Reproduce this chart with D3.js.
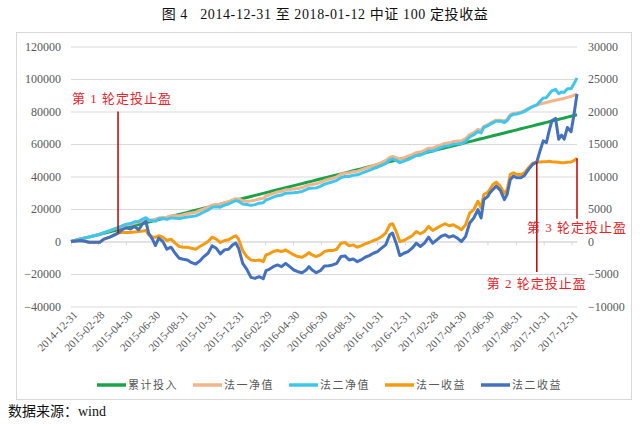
<!DOCTYPE html>
<html>
<head>
<meta charset="utf-8">
<script src="https://cdn.jsdelivr.net/npm/d3@7"></script>
<style>
body { margin: 0; background: #fff; }
text { font-family: "Liberation Serif", "Noto Sans CJK SC", serif; }
</style>
</head>
<body>
<div id="chart"></div>
<script>
// sample dates
var dates = ["2014-12-31","2015-01-22","2015-02-09","2015-03-04","2015-03-13","2015-03-26","2015-04-13","2015-04-22","2015-05-01","2015-05-10",
"2015-05-19","2015-05-28","2015-06-06","2015-06-13","2015-06-19","2015-06-28","2015-07-04","2015-07-11","2015-07-20","2015-07-29",
"2015-08-07","2015-08-16","2015-08-25","2015-09-03","2015-09-12","2015-09-21","2015-09-30","2015-10-09","2015-10-18","2015-10-27",
"2015-11-05","2015-11-14","2015-11-23","2015-12-02","2015-12-11","2015-12-20","2015-12-27","2016-01-02","2016-01-11","2016-01-20",
"2016-01-29","2016-02-07","2016-02-16","2016-02-25","2016-03-02","2016-03-09","2016-03-18","2016-03-27","2016-04-05","2016-04-14",
"2016-04-23","2016-05-02","2016-05-11","2016-05-20","2016-05-29","2016-06-04","2016-06-11","2016-06-20","2016-06-29","2016-07-08",
"2016-07-17","2016-07-26","2016-08-04","2016-08-13","2016-08-22","2016-08-31","2016-09-09","2016-09-18","2016-09-26","2016-10-05",
"2016-10-14","2016-10-23","2016-11-01","2016-11-10","2016-11-19","2016-11-28","2016-12-04","2016-12-12","2016-12-20","2016-12-29",
"2017-01-07","2017-01-16","2017-01-25","2017-02-03","2017-02-12","2017-02-21","2017-03-02","2017-03-11","2017-03-20","2017-03-29",
"2017-04-07","2017-04-16","2017-04-25","2017-05-04","2017-05-13","2017-05-22","2017-05-31","2017-06-09","2017-06-16","2017-06-22",
"2017-07-01","2017-07-05","2017-07-12","2017-07-19","2017-07-28","2017-08-06","2017-08-12","2017-08-19","2017-08-26","2017-09-02",
"2017-09-11","2017-09-19","2017-09-28","2017-10-07","2017-10-16","2017-10-23","2017-10-30","2017-11-06","2017-11-12","2017-11-18",
"2017-11-26","2017-12-03","2017-12-09","2017-12-15","2017-12-22","2017-12-30","2018-01-05","2018-01-12"];

// 累计投入 (left axis)
var invest = [100,1550,2820,4440,5070,5980,7250,7880,8520,9150,
9790,10420,11050,11550,11970,12600,13020,13520,14150,14780,
15420,16050,16680,17320,17950,18590,19220,19850,20490,21120,
21750,22390,23020,23650,24290,24920,25410,25840,26470,27100,
27740,28370,29000,29640,30060,30550,31190,31820,32450,33090,
33720,34360,34990,35620,36260,36680,37170,37800,38440,39070,
39710,40340,40970,41610,42240,42870,43510,44140,44700,45340,
45970,46600,47240,47870,48510,49140,49560,50120,50690,51320,
51960,52590,53220,53860,54490,55120,55760,56390,57020,57660,
58290,58920,59560,60190,60830,61460,62090,62730,63220,63640,
64280,64560,65050,65540,66180,66810,67230,67720,68220,68710,
69340,69910,70540,71170,71810,72300,72790,73290,73710,74130,
74690,75190,75610,76030,76520,77090,77510,78000];

// 法一净值 (left axis)
var net1 = [100,1700,2720,4340,5430,6650,8540,9270,9910,10540,
11230,11970,12650,13250,13000,13270,13690,14400,14820,14940,
15780,15790,15910,16440,17070,17560,18030,19080,20080,21120,
22420,22750,22870,23810,24550,25590,26290,26200,25080,24780,
24900,25430,26160,26540,28000,28640,29640,30430,30900,31800,
32020,32300,32670,33200,34200,34980,35110,35480,36380,37520,
38320,38950,39780,41350,42090,42200,42990,43260,44030,44980,
45820,46760,47600,48640,49800,51720,52300,51670,50690,51480,
52480,53470,54770,55050,56040,57440,57460,58450,59450,60390,
60720,61500,61780,62000,63410,65850,66990,68920,68380,70860,
71870,72560,73820,74670,74690,74190,75230,78040,78800,79030,
79660,80490,81890,83190,84040,84530,85070,85570,86040,86410,
86920,87370,87740,88160,88700,89320,89950,90800];

// 法二净值 (left axis)
var net2 = [100,1700,2720,4340,5430,6650,8540,9690,10640,11060,
12110,12230,13790,14640,13260,12860,12400,14030,14150,13600,
14540,14240,14100,14580,15110,15340,15760,16860,18170,19310,
21080,21360,21110,22360,23100,24410,25160,24800,23120,22820,
22220,22690,23580,23910,25570,26270,27320,28210,28580,29740,
29850,29970,30350,30820,31870,32810,32780,33000,33950,35300,
35990,36730,37620,39290,40020,40030,40830,41040,41860,42910,
43800,44800,45690,46840,47990,50170,50850,49860,48520,49510,
50410,51560,52960,53090,54230,55790,55500,56650,57790,58690,
58960,59800,60080,60190,61600,64300,65700,67630,66830,70090,
71250,72040,73050,74050,74070,73260,74450,77270,78280,78510,
79140,80080,81630,83040,84040,86230,88270,88510,90740,92710,
93630,90930,91970,91770,94060,93960,96860,100700];

// 法一收益 (right axis)
var profit1 = [0,155,-103,-103,361,671,1290,1393,1393,1393,
1445,1548,1600,1703,1032,671,671,877,671,155,
361,-258,-774,-877,-877,-1032,-1187,-774,-413,0,
671,361,-155,155,258,671,877,361,-1393,-2322,
-2838,-2941,-2838,-3096,-2064,-1909,-1548,-1393,-1548,-1290,
-1703,-2064,-2322,-2425,-2064,-1703,-2064,-2322,-2064,-1548,
-1393,-1393,-1187,-258,-155,-671,-516,-877,-671,-361,
-155,155,361,774,1290,2580,2735,1548,0,155,
516,877,1548,1187,1548,2322,1703,2064,2425,2735,
2425,2580,2219,1806,2580,4386,4902,6192,5160,7224,
7585,7998,8772,9133,8514,7379,7998,10320,10578,10320,
10320,10578,11352,12023,12229,12229,12281,12281,12332,12281,
12229,12178,12126,12126,12178,12229,12436,12797];

// 法二收益 (right axis)
var profit2 = [0,155,-103,-103,361,671,1290,1806,2116,1909,
2322,1806,2735,3096,1290,258,-619,516,0,-1187,
-877,-1806,-2580,-2735,-2838,-3251,-3457,-2993,-2322,-1806,
-671,-1032,-1909,-1290,-1187,-516,-258,-1032,-3354,-4283,
-5521,-5676,-5418,-5728,-4489,-4283,-3870,-3612,-3870,-3354,
-3870,-4386,-4644,-4799,-4386,-3870,-4386,-4799,-4489,-3767,
-3715,-3612,-3354,-2322,-2219,-2838,-2683,-3096,-2838,-2425,
-2167,-1806,-1548,-1032,-516,1032,1290,-258,-2167,-1806,
-1548,-1032,-258,-774,-258,671,-258,258,774,1032,
671,877,516,0,774,2838,3612,4902,3612,6450,
6966,7482,7998,8514,7895,6450,7224,9546,10062,9804,
9804,10165,11094,11868,12229,13932,15480,15222,17028,18576,
18937,15738,16357,15738,17544,16873,19350,22704];

var tickLabels = ["2014-12-31","2015-02-28","2015-04-30","2015-06-30","2015-08-31","2015-10-31","2015-12-31",
"2016-02-29","2016-04-30","2016-06-30","2016-08-31","2016-10-31","2016-12-31","2017-02-28","2017-04-30",
"2017-06-30","2017-08-31","2017-10-31","2017-12-31"];

var leftTicks = [-40000,-20000,0,20000,40000,60000,80000,100000,120000];
var rightTicks = [-10000,-5000,0,5000,10000,15000,20000,25000,30000];

var seriesNames = ["累计投入","法一净值","法二净值","法一收益","法二收益"];
var seriesColors = ["#1ba34a","#f2b48a","#3fc6ee","#f59b12","#4470c0"];

var stopDates = ["2015-04-13","2017-10-16","2018-01-12"];
var stopLabels = ["第 1 轮定投止盈","第 2 轮定投止盈","第 3 轮定投止盈"];

var width = 640, height = 426;
var parse = d3.timeParse("%Y-%m-%d");

var svg = d3.select("#chart").append("svg")
    .attr("width", width)
    .attr("height", height);

// outer frame
svg.append("rect")
    .attr("x", 16.5).attr("y", 32.5)
    .attr("width", 615).attr("height", 367)
    .attr("fill", "none").attr("stroke", "#d9d9d9");

svg.append("text")
    .attr("x", 325).attr("y", 19)
    .attr("text-anchor", "middle")
    .style("font-size", "14px")
    .style("letter-spacing", "0.6px")
    .style("white-space", "pre")
    .attr("fill", "#111")
    .text("图 4   2014-12-31 至 2018-01-12 中证 100 定投收益");

var x = d3.scaleTime()
    .domain([parse("2014-12-31"), parse("2018-01-12")])
    .range([71, 577]);
var yL = d3.scaleLinear().domain([-40000, 120000]).range([306.5, 46.5]);
var yR = d3.scaleLinear().domain([-10000, 30000]).range([306.5, 46.5]);

// left axis + gridlines
var gl = svg.append("g")
    .attr("transform", "translate(71,0)")
    .call(d3.axisLeft(yL).tickValues(leftTicks).tickSize(-506).tickPadding(10).tickFormat(d3.format("d")));
gl.select(".domain").remove();
gl.selectAll("line").attr("stroke", "#d9d9d9");
gl.selectAll("text").attr("fill", "#595959").style("font-size", "12px");

var gr = svg.append("g")
    .attr("transform", "translate(577,0)")
    .call(d3.axisRight(yR).tickValues(rightTicks).tickSize(0).tickPadding(11).tickFormat(d3.format("d")));
gr.select(".domain").remove();
gr.selectAll("text").attr("fill", "#595959").style("font-size", "12px");

// x ticks sit on the zero line
var tickDates = tickLabels.map(parse);
var gx = svg.append("g")
    .attr("transform", "translate(0," + yL(0) + ")")
    .call(d3.axisBottom(x).tickValues(tickDates).tickSize(4).tickSizeOuter(0).tickFormat(""));
gx.selectAll("line").attr("stroke", "#d9d9d9");
gx.select(".domain").attr("stroke", "#d9d9d9");

var gxl = svg.append("g")
    .attr("transform", "translate(0,313)")
    .call(d3.axisBottom(x).tickValues(tickDates).tickSize(0).tickFormat(d3.timeFormat("%Y-%m-%d")));
gxl.select(".domain").remove();
gxl.selectAll("text")
    .attr("y", 0).attr("dy", "0.35em")
    .attr("text-anchor", "end")
    .attr("transform", "translate(4,0) rotate(-45)")
    .attr("fill", "#595959")
    .style("font-size", "11px");

// series
var rows = dates.map(function(d, i) {
    return { date: parse(d), v: [invest[i], net1[i], net2[i], profit1[i], profit2[i]] };
});

seriesNames.forEach(function(name, k) {
    var yScale = k < 3 ? yL : yR;
    var line = d3.line()
        .x(function(d) { return x(d.date); })
        .y(function(d) { return yScale(d.v[k]); });
    svg.append("path")
        .datum(rows)
        .attr("fill", "none")
        .attr("stroke", seriesColors[k])
        .attr("stroke-width", 3)
        .attr("stroke-linejoin", "round")
        .attr("d", line);
});

// stop-profit markers
function valueAt(arr, ds) {
    return arr[dates.indexOf(ds)];
}
var marks = [
    { x: x(parse(stopDates[0])), y1: yL(80000), y2: yR(valueAt(profit2, stopDates[0])), ty: 98 },
    { x: x(parse(stopDates[1])), y1: yR(valueAt(profit1, stopDates[1])), y2: yR(-4700), ty: 283 },
    { x: x(parse(stopDates[2])), y1: yR(valueAt(profit1, stopDates[2])), y2: yR(3500), ty: 227 }
];
marks.forEach(function(m, i) {
    svg.append("line")
        .attr("x1", m.x).attr("x2", m.x)
        .attr("y1", m.y1).attr("y2", m.y2)
        .attr("stroke", "#c00000").attr("stroke-width", 1.5);
    svg.append("text")
        .attr("x", m.x + (i == 0 ? 4 : 0)).attr("y", m.ty)
        .attr("dy", "0.35em")
        .attr("text-anchor", "middle")
        .attr("fill", "#e8242a")
        .style("font-size", "13px")
        .style("letter-spacing", "1px")
        .style("white-space", "pre")
        .text(stopLabels[i]);
});

// legend
var legendX = [97, 193, 289, 385, 481];
seriesNames.forEach(function(name, k) {
    var g = svg.append("g").attr("transform", "translate(" + legendX[k] + ",385)");
    g.append("line")
        .attr("x1", 0).attr("x2", 29)
        .attr("stroke", seriesColors[k]).attr("stroke-width", 3.5);
    g.append("text")
        .attr("x", 31).attr("dy", "0.35em")
        .attr("fill", "#595959")
        .style("font-size", "11px")
        .style("letter-spacing", "1.5px")
        .text(name);
});

svg.append("text")
    .attr("x", 8).attr("y", 416)
    .style("font-size", "14px")
    .attr("fill", "#111")
    .text("数据来源：wind");
</script>
</body>
</html>
